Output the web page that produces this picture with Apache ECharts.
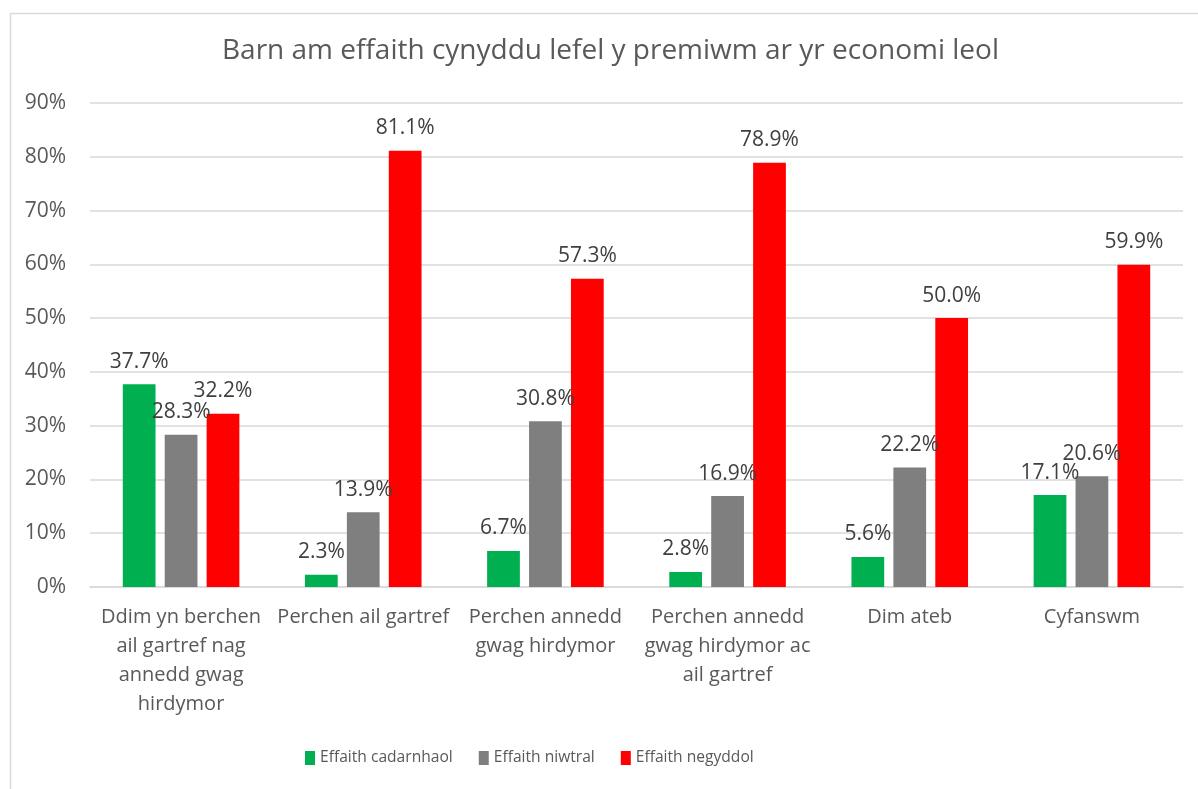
<!DOCTYPE html>
<html><head><meta charset="utf-8">
<script src="https://cdn.jsdelivr.net/npm/echarts@6/dist/echarts.min.js"></script>
<style>html,body{margin:0;padding:0;background:#fff;}#c{width:1198px;height:789px;}</style>
</head><body><div id="c"></div>
<script>
const categories = [
  'Ddim yn berchen\nail gartref nag\nannedd gwag\nhirdymor',
  'Perchen ail gartref',
  'Perchen annedd\ngwag hirdymor',
  'Perchen annedd\ngwag hirdymor ac\nail gartref',
  'Dim ateb',
  'Cyfanswm'
];
const seriesNames = ['Effaith cadarnhaol', 'Effaith niwtral', 'Effaith negyddol'];
const positive = [37.7, 2.3, 6.7, 2.8, 5.6, 17.1];
const neutral = [28.3, 13.9, 30.8, 16.9, 22.2, 20.6];
const negative = [32.2, 81.1, 57.3, 78.9, 50.0, 59.9];
const colors = ['#00B050', '#7F7F7F', '#FF0000'];

const font = '"Open Sans", sans-serif';
const txt = '#595959';
const chart = echarts.init(document.getElementById('c'));
function mk(name, data, color) {
  return {
    name, type: 'bar', data,
    itemStyle: { color },
    barGap: '28%', barCategoryGap: '36%',
    label: { show: true, position: 'top', distance: 12, formatter: p => p.value.toFixed(1) + '%',
      color: '#404040', fontFamily: font, fontSize: 21 }
  };
}
chart.setOption({
  animation: false,
  textStyle: { fontFamily: font },
  graphic: [{ type: 'rect', left: 8, top: 11, shape: { width: 1220, height: 800 },
    style: { fill: 'none', stroke: '#D9D9D9', lineWidth: 1.5 }, silent: true }],
  title: { text: 'Barn am effaith cynyddu lefel y premiwm ar yr economi leol', left: 217, top: 32,
    textStyle: { color: txt, fontFamily: font, fontSize: 28, fontWeight: 'normal' } },
  legend: { bottom: 18, left: 300, itemWidth: 10, itemHeight: 14, itemGap: 26,
    icon: 'rect', textStyle: { color: txt, fontFamily: font, fontSize: 15.6 }, data: seriesNames },
  grid: { left: 90, right: 15, top: 103, bottom: 202 },
  xAxis: { type: 'category', data: categories,
    axisLine: { lineStyle: { color: '#D9D9D9', width: 1.5 } }, axisTick: { show: false },
    axisLabel: { color: txt, fontFamily: font, fontSize: 20, lineHeight: 29, margin: 16, interval: 0 } },
  yAxis: { type: 'value', min: 0, max: 90, interval: 10,
    axisLine: { show: false }, axisTick: { show: false },
    splitLine: { lineStyle: { color: '#D9D9D9', width: 1.5 } },
    axisLabel: { color: txt, fontFamily: font, fontSize: 21, margin: 24, formatter: v => v + '%' } },
  series: [mk(seriesNames[0], positive, colors[0]), mk(seriesNames[1], neutral, colors[1]), mk(seriesNames[2], negative, colors[2])]
});
</script></body></html>
